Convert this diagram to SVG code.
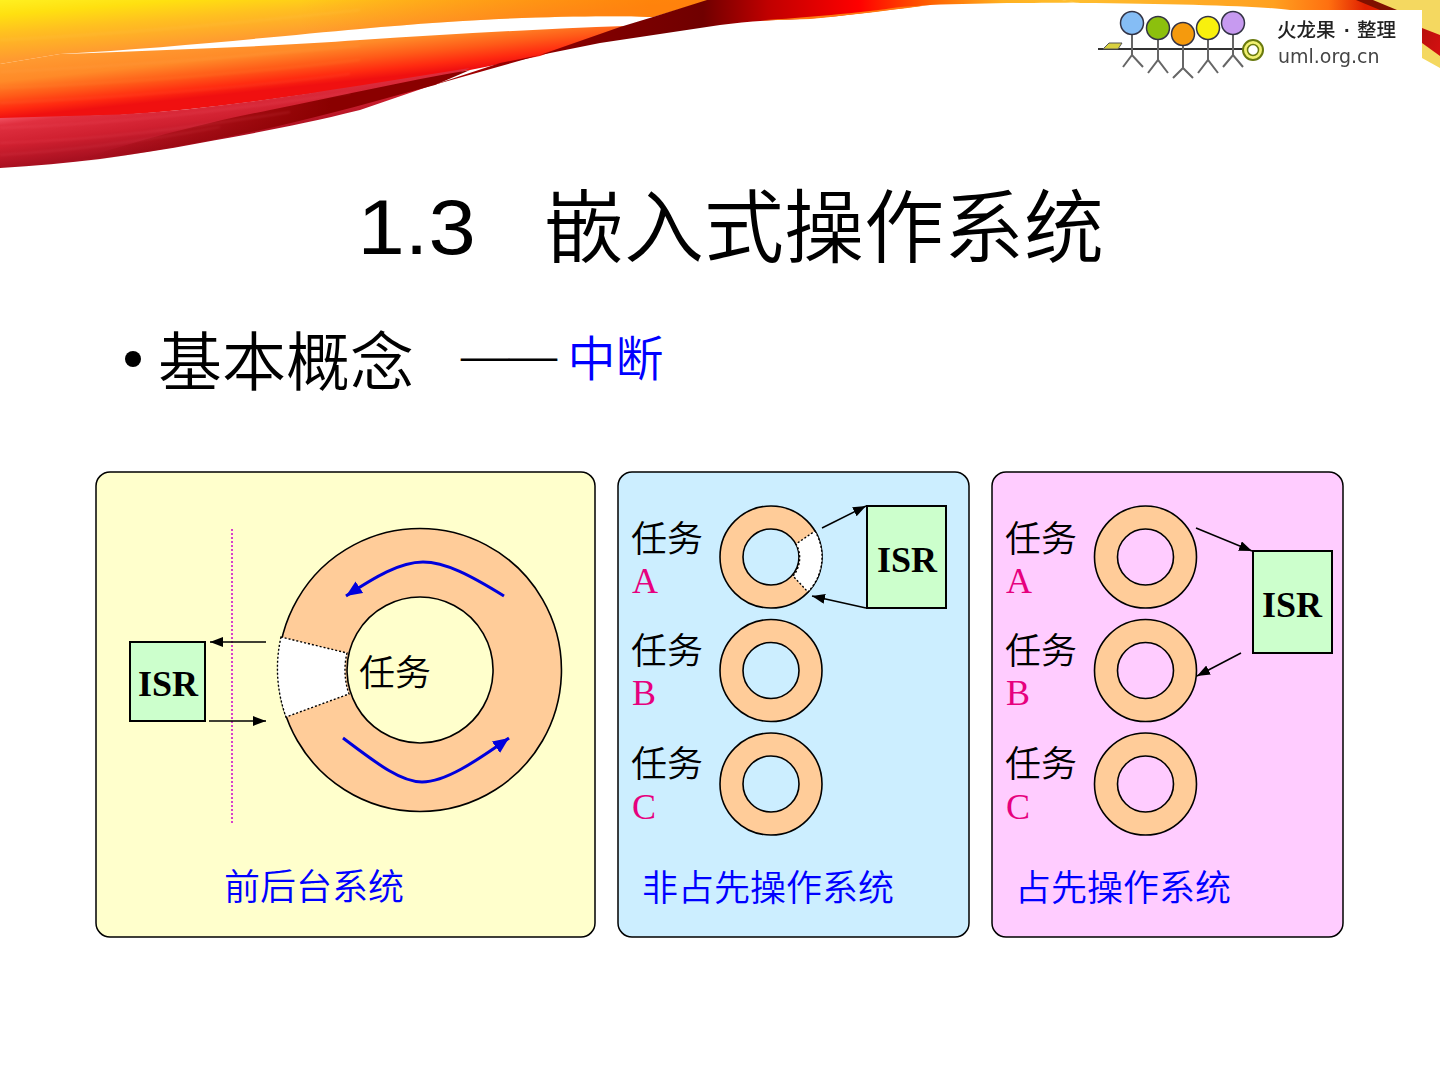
<svg xmlns="http://www.w3.org/2000/svg" width="1440" height="1080" viewBox="0 0 1440 1080">
<style>
text{font-family:"Liberation Sans","Noto Sans CJK SC",sans-serif}
.cn{font-family:"Noto Sans CJK SC","Liberation Sans",sans-serif;font-weight:350}
.cjk{font-family:"Noto Sans CJK SC","Liberation Sans",sans-serif;font-weight:350;font-size:36px;fill:#000}
.blue{fill:#0000ff}
.mag{font-family:"Liberation Serif",serif;font-size:36px;fill:#e6007e}
.isr{font-family:"Liberation Serif",serif;font-size:36px;font-weight:bold;text-anchor:middle;fill:#000}
.panel{stroke:#000;stroke-width:1.5}
.ring{fill:#ffcc99;stroke:#000;stroke-width:1.6}
.box{fill:#ccffcc;stroke:#000;stroke-width:2}
.wedge{fill:#fff;stroke:#000;stroke-width:1.4;stroke-dasharray:2 2}
.arr{fill:none;stroke:#000;stroke-width:1.5;marker-end:url(#ah)}
.blueArr{fill:none;stroke:#0000dd;stroke-width:3;marker-end:url(#bh)}
.streak{fill:none;stroke-width:2}
.man{fill:none;stroke:#666;stroke-width:2}
.head{stroke:#334;stroke-width:1.5}
</style>
<defs>
<marker id="ah" markerUnits="userSpaceOnUse" markerWidth="14" markerHeight="10" refX="13" refY="5" orient="auto"><path d="M0 0L13 5L0 10Z" fill="#000"/></marker>
<marker id="bh" markerUnits="userSpaceOnUse" markerWidth="18" markerHeight="14" refX="16" refY="7" orient="auto"><path d="M0 0L16 7L0 14Z" fill="#0000dd"/></marker>
<filter id="soft" x="-5%" y="-5%" width="110%" height="110%"><feGaussianBlur stdDeviation=".45"/></filter>
<filter id="soft2" x="-5%" y="-20%" width="110%" height="140%"><feGaussianBlur stdDeviation=".8"/></filter>
<linearGradient id="gU" gradientUnits="userSpaceOnUse" x1="0" y1="0" x2="5" y2="60"><stop offset="0" stop-color="#fff020"/><stop offset=".25" stop-color="#ffe010"/><stop offset=".55" stop-color="#ffc020"/><stop offset="1" stop-color="#ff9a30"/></linearGradient>
<linearGradient id="gU2" gradientUnits="userSpaceOnUse" x1="300" y1="0" x2="650" y2="0"><stop offset="0" stop-color="#ff7a00" stop-opacity="0"/><stop offset="1" stop-color="#ff7a00" stop-opacity=".75"/></linearGradient>
<linearGradient id="gM" gradientUnits="userSpaceOnUse" x1="0" y1="62" x2="6" y2="118"><stop offset="0" stop-color="#ff9a30"/><stop offset=".35" stop-color="#ff8a28"/><stop offset=".62" stop-color="#ff5a18"/><stop offset=".85" stop-color="#ff2a10"/><stop offset="1" stop-color="#f01010"/></linearGradient>
<linearGradient id="gD" gradientUnits="userSpaceOnUse" x1="0" y1="118" x2="6.500" y2="168"><stop offset="0" stop-color="#f05060"/><stop offset=".15" stop-color="#e03040"/><stop offset=".55" stop-color="#d02030"/><stop offset="1" stop-color="#a81020"/></linearGradient>
<linearGradient id="gDk" gradientUnits="userSpaceOnUse" x1="80" y1="0" x2="330" y2="0"><stop offset="0" stop-color="#8a0000" stop-opacity="0"/><stop offset="1" stop-color="#8a0000"/></linearGradient>
<linearGradient id="gS" gradientUnits="userSpaceOnUse" x1="430" y1="0" x2="1080" y2="0"><stop offset="0" stop-color="#a80000"/><stop offset=".26" stop-color="#800000"/><stop offset=".42" stop-color="#700000"/><stop offset=".52" stop-color="#c00000"/><stop offset=".66" stop-color="#ff0000"/><stop offset=".77" stop-color="#ff6000"/><stop offset=".88" stop-color="#ffb020"/><stop offset="1" stop-color="#ffc030"/></linearGradient>
<linearGradient id="gT" gradientUnits="userSpaceOnUse" x1="1060" y1="0" x2="1365" y2="0"><stop offset="0" stop-color="#ffc030"/><stop offset=".7" stop-color="#ffa020"/><stop offset=".88" stop-color="#ff7010"/><stop offset="1" stop-color="#e02000"/></linearGradient>
<linearGradient id="gR" gradientUnits="userSpaceOnUse" x1="1355" y1="0" x2="1440" y2="45"><stop offset="0" stop-color="#701000"/><stop offset="1" stop-color="#d01010"/></linearGradient>
</defs>

<g id="ribbon">
<path d="M0 0H710L653 17C600 15 500 16 360 29C280 36 170 48 60 54L0 64Z" fill="url(#gU)"/>
<path d="M0 0H710L653 17C600 15 500 16 360 29C280 36 170 48 60 54L0 64Z" fill="url(#gU2)"/>
<path d="M0 64L60 54C170 50 280 46 360 40C450 34 540 29 625 26L540 56L470 70L360 87C280 98 200 110 120 115L0 119Z" fill="url(#gM)"/>
<path d="M0 118L120 114.500C200 110 280 98 360 85.500L470 68L430 86L360 110C300 125 260 132 200 143C130 156 70 164 0 168Z" fill="url(#gD)"/>
<path d="M60 165C130 156 200 143 270 128C330 114 380 100 435 85L470 70C400 82 340 96 270 110C170 130 110 150 60 165Z" fill="url(#gDk)"/>
<path d="M430 86L540 55L620 27L653 17L707 0H1062L1080 2.500C1040 3 980 3 930 5C910 7 890 10 880 11C850 15 820 18 800 19C770 20 745 22 720 25L600 43L500 63Z" fill="url(#gS)"/>
<path d="M760 20.500C800 18 860 13 900 7L930 5C900 9 860 14 810 19Z" fill="#ff7a10"/>
<path d="M1060 0H1372L1385 10H1290C1260 6 1180 4 1080 3Z" fill="url(#gT)"/>
<path d="M1372 0H1440V68L1422 58V10H1390Z" fill="#f4d860"/>
<path d="M1356 0H1373L1397 10H1380Z" fill="#801000"/>
<path d="M1422 28L1440 35V56L1422 43Z" fill="url(#gR)"/>
<g filter="url(#soft2)" opacity=".14">
<path class="streak" stroke="#ffd060" d="M0 40C120 34 250 22 360 10"/>
<path class="streak" stroke="#ffb060" d="M0 72C120 66 260 55 360 46"/>
<path class="streak" stroke="#ffa040" d="M0 88C120 84 260 72 360 60"/>
<path class="streak" stroke="#ff8050" d="M0 103C120 98 260 86 350 74"/>
<path class="streak" stroke="#ff7080" d="M0 128C120 124 230 110 350 93"/>
<path class="streak" stroke="#ff7080" d="M0 143C100 140 190 128 290 112"/>
<path class="streak" stroke="#f06070" d="M0 155C80 150 150 140 220 127"/>
</g>
</g>

<g id="logo">
<rect x="1090" y="10" width="332" height="71" fill="#fff"/>
<g filter="url(#soft)">
<path d="M1098 49H1245" stroke="#333" stroke-width="1.8"/>
<path d="M1103 49L1109 43H1122L1118 49Z" fill="#d8d040" stroke="#555" stroke-width="1"/>
<path class="man" d="M1132 34V55M1123 67L1132 55L1143 67"/>
<path class="man" d="M1158 39V60M1148 73L1158 60L1168 73"/>
<path class="man" d="M1183 45V68M1173 78L1183 68L1193 78"/>
<path class="man" d="M1208 39V60M1198 73L1208 60L1218 73"/>
<path class="man" d="M1233 34V55M1223 67L1233 55L1243 67"/>
<circle class="head" cx="1132" cy="23" r="11.500" fill="#85bdf5"/>
<circle class="head" cx="1158" cy="28" r="11.500" fill="#8cc010"/>
<circle class="head" cx="1183" cy="34" r="11.500" fill="#f59a10"/>
<circle class="head" cx="1208" cy="28" r="11.500" fill="#f8f010"/>
<circle class="head" cx="1233" cy="23" r="11.500" fill="#c79af0"/>
<circle cx="1253" cy="50" r="10" fill="#f0f070" stroke="#6a7a10" stroke-width="2"/>
<circle cx="1253" cy="50" r="5.500" fill="#fff" stroke="#6a7a10" stroke-width="1.500"/>
<text class="cn" x="1277" y="37" font-size="19.500" fill="#222" style="font-weight:500">火龙果</text>
<text x="1344" y="37" font-size="20" fill="#222" style="font-weight:bold">·</text>
<text class="cn" x="1357" y="37" font-size="19.500" fill="#222" style="font-weight:500">整理</text>
<text x="1278" y="63" font-size="19" fill="#444" style="font-family:'DejaVu Sans',sans-serif">uml.org.cn</text>
</g>
</g>

<g id="title">
<text transform="translate(357.500 254) scale(1.09 1)" font-size="78" fill="#000">1.3</text>
<text class="cn" x="544" y="256" font-size="80" fill="#000">嵌入式操作系统</text>
</g>
<g id="bullet">
<circle cx="133" cy="359" r="8" fill="#000"/>
<text class="cn" x="158" y="385" font-size="64" fill="#000">基本概念</text>
<text x="461" y="371" font-size="48" fill="#000" style="font-family:'Liberation Serif',serif">——</text>
<text class="cn" x="567.500" y="376" font-size="48" fill="#0000ff">中断</text>
</g>

<g id="panel-foreground">
<rect class="panel" x="96" y="472" width="499" height="465" rx="14" fill="#ffffcc"/>
<path d="M420 528.500A141.500 141.500 0 1 1 419.900 528.500ZM420 597A73 73 0 1 0 420.100 597Z" class="ring" fill-rule="evenodd"/>
<path class="wedge" d="M281 637A141.500 141.500 0 0 0 286 717L349 694A73 73 0 0 1 347 653Z"/>
<text class="cjk" x="359" y="686">任务</text>
<path d="M232 529V823" stroke="#cc00cc" stroke-width="1.5" stroke-dasharray="2 2" fill="none"/>
<text class="cjk blue" x="224" y="900">前后台系统</text>
</g>
<g id="isr-1">
<rect class="box" x="130" y="642" width="75" height="79"/>
<text class="isr" x="168" y="696">ISR</text>
</g>

<g id="panel-nonpreemptive">
<rect class="panel" x="618" y="472" width="351" height="465" rx="14" fill="#cceeff"/>
<text class="cjk" x="631" y="552">任务</text><text class="mag" x="632" y="593">A</text>
<text class="cjk" x="631" y="664">任务</text><text class="mag" x="632" y="705">B</text>
<text class="cjk" x="631" y="777">任务</text><text class="mag" x="632" y="819">C</text>
<circle class="ring" cx="771" cy="557" r="51"/><circle class="ring" cx="771" cy="557" r="28" style="fill:#cceeff"/>
<path class="wedge" d="M815 531A51 51 0 0 1 808 592L793 576A28 28 0 0 0 796 544Z"/>
<circle class="ring" cx="771" cy="670.500" r="51"/><circle class="ring" cx="771" cy="670.500" r="28" style="fill:#cceeff"/>
<circle class="ring" cx="771" cy="784" r="51"/><circle class="ring" cx="771" cy="784" r="28" style="fill:#cceeff"/>
<text class="cjk blue" x="642" y="901">非占先操作系统</text>
</g>
<g id="isr-2">
<rect class="box" x="867" y="506" width="79" height="102"/>
<text class="isr" x="907" y="572">ISR</text>
</g>

<g id="panel-preemptive">
<rect class="panel" x="992" y="472" width="351" height="465" rx="14" fill="#ffccff"/>
<text class="cjk" x="1005" y="552">任务</text><text class="mag" x="1006" y="593">A</text>
<text class="cjk" x="1005" y="664">任务</text><text class="mag" x="1006" y="705">B</text>
<text class="cjk" x="1005" y="777">任务</text><text class="mag" x="1006" y="819">C</text>
<circle class="ring" cx="1145.500" cy="557" r="51"/><circle class="ring" cx="1145.500" cy="557" r="28" style="fill:#ffccff"/>
<circle class="ring" cx="1145.500" cy="670.500" r="51"/><circle class="ring" cx="1145.500" cy="670.500" r="28" style="fill:#ffccff"/>
<circle class="ring" cx="1145.500" cy="784" r="51"/><circle class="ring" cx="1145.500" cy="784" r="28" style="fill:#ffccff"/>
<text class="cjk blue" x="1015" y="901">占先操作系统</text>
</g>
<g id="isr-3">
<rect class="box" x="1253" y="551" width="79" height="102"/>
<text class="isr" x="1292" y="617">ISR</text>
</g>

<g id="connectors">
<path class="arr" d="M266 642H210"/>
<path class="arr" d="M209 721H266"/>
<path class="blueArr" d="M504 596C470 575 445 562 423 562C400 562 375 577 346 596"/>
<path class="blueArr" d="M343 738C375 762 400 782 422 782C445 782 475 762 509 738"/>
<path class="arr" d="M822 528L866 506"/>
<path class="arr" d="M866 608L812 596"/>
<path class="arr" d="M1196 528L1252 551"/>
<path class="arr" d="M1241 653L1197 676"/>
</g>
</svg>
